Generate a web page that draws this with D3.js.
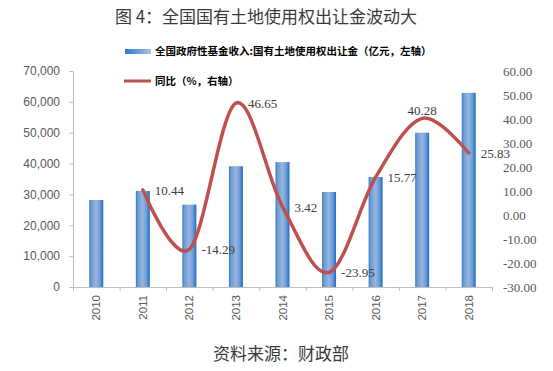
<!DOCTYPE html>
<html>
<head>
<meta charset="utf-8">
<script src="https://cdn.jsdelivr.net/npm/d3@7/dist/d3.min.js"></script>
<style>
  html, body { margin: 0; padding: 0; background: #fff; }
  svg { display: block; }
</style>
</head>
<body>
<svg id="chart" width="553" height="371"></svg>
<script>
const years = ["2010","2011","2012","2013","2014","2015","2016","2017","2018"];
const landRevenue = [28196, 31139, 26689, 39140, 40479, 30784, 35640, 49997, 62911];
const yoyGrowth = [null, 10.44, -14.29, 46.65, 3.42, -23.95, 15.77, 40.28, 25.83];
const leftTicks = [0, 10000, 20000, 30000, 40000, 50000, 60000, 70000];
const rightTicks = [-30, -20, -10, 0, 10, 20, 30, 40, 50, 60];
const titleText = "图 4：全国国有土地使用权出让金波动大";
const sourceText = "资料来源：财政部";
const legendBar = "全国政府性基金收入:国有土地使用权出让金（亿元，左轴）";
const legendLine = "同比（%，右轴）";

const svg = d3.select("#chart");
const plotL = 73, plotR = 492, plotT = 71, plotB = 287;

const defs = svg.append("defs");
const g1 = defs.append("linearGradient").attr("id", "barGrad").attr("x1", "0").attr("x2", "1").attr("y1", "0").attr("y2", "0");
[["0%", "#2f79c8"], ["14%", "#6b9bd5"], ["48%", "#98b5de"], ["76%", "#6c9dd8"], ["100%", "#1a6bc2"]]
  .forEach(([o, c]) => g1.append("stop").attr("offset", o).attr("stop-color", c));
const g2 = defs.append("linearGradient").attr("id", "legGrad").attr("x1", "0").attr("x2", "1");
[["0%", "#2f78c6"], ["100%", "#a7c4e8"]].forEach(([o, c]) => g2.append("stop").attr("offset", o).attr("stop-color", c));

const x = d3.scaleBand().domain(years).range([plotL, plotR]).paddingInner(0.7).paddingOuter(0.35);
const xb = d3.scaleLinear().domain([0, years.length]).range([plotL, plotR]);
const yL = d3.scaleLinear().domain([0, 70000]).range([plotB, plotT]);
const yR = d3.scaleLinear().domain([-30, 60]).range([plotB, plotT]);

// Title
svg.append("text").attr("x", 266).attr("y", 23).attr("text-anchor", "middle")
  .attr("font-family", "'Noto Sans CJK SC', sans-serif").attr("font-size", 17).attr("fill", "#3a3a3a")
  .text(titleText);

// Bars
svg.append("g").selectAll("rect").data(years).join("rect")
  .attr("x", d => x(d)).attr("width", x.bandwidth())
  .attr("y", (d, i) => yL(landRevenue[i]))
  .attr("height", (d, i) => yL(0) - yL(landRevenue[i]))
  .attr("fill", "url(#barGrad)");

// Left axis
const axL = svg.append("g").attr("transform", `translate(${plotL},0)`)
  .call(d3.axisLeft(yL).tickValues(leftTicks).tickFormat(d3.format(",")).tickSize(4).tickSizeOuter(0).tickPadding(9));
axL.selectAll("path, line").attr("stroke", "#bfbfbf");
axL.selectAll("text").attr("font-family", "'Liberation Sans', Arial, sans-serif").attr("font-size", 12).attr("fill", "#595959");

// Bottom axis
const axB = svg.append("g").attr("transform", `translate(0,${plotB})`)
  .call(d3.axisBottom(xb).tickValues(d3.range(years.length + 1)).tickFormat("").tickSize(4).tickSizeOuter(0));
axB.selectAll("path, line").attr("stroke", "#bfbfbf");

svg.append("g").selectAll("text").data(years).join("text")
  .attr("transform", d => `translate(${x(d) + x.bandwidth() / 2 + 4},${plotB + 8}) rotate(-90)`)
  .attr("text-anchor", "end")
  .attr("font-family", "'Liberation Sans', Arial, sans-serif").attr("font-size", 11.5).attr("fill", "#595959")
  .text(d => d);

// Right axis
const axR = svg.append("g").attr("transform", `translate(${plotR},0)`)
  .call(d3.axisRight(yR).tickValues(rightTicks).tickFormat(d => d.toFixed(2)).tickSize(0).tickPadding(11));
axR.select(".domain").remove();
axR.selectAll("text").attr("font-family", "'Liberation Serif', 'Times New Roman', serif").attr("font-size", 13).attr("fill", "#595959");

// Line
const pts = years.map((d, i) => ({ year: d, v: yoyGrowth[i] })).filter(p => p.v !== null);
const cx = d => x(d.year) + x.bandwidth() / 2;
const line = d3.line().x(cx).y(d => yR(d.v)).curve(d3.curveCardinal.tension(0));
svg.append("path").datum(pts).attr("d", line).attr("fill", "none")
  .attr("stroke", "#c0504d").attr("stroke-width", 3.5).attr("stroke-linecap", "round");

// Data labels
svg.append("g").selectAll("text").data(pts).join("text")
  .attr("x", d => d.year === "2017" ? cx(d) : cx(d) + 12)
  .attr("y", d => d.year === "2017" ? yR(d.v) - 6 : yR(d.v) + 2)
  .attr("text-anchor", d => d.year === "2017" ? "middle" : "start")
  .attr("dominant-baseline", "middle")
  .attr("font-family", "'Liberation Serif', 'Times New Roman', serif").attr("font-size", 13).attr("fill", "#404040")
  .text(d => d.v.toFixed(2));

// Legend
svg.append("rect").attr("x", 125).attr("y", 49).attr("width", 26).attr("height", 5).attr("fill", "url(#legGrad)");
svg.append("text").attr("x", 155).attr("y", 55)
  .attr("font-family", "'Noto Sans CJK SC', sans-serif").attr("font-weight", "bold").attr("font-size", 10.5).attr("fill", "#000")
  .text(legendBar);
svg.append("line").attr("x1", 124).attr("x2", 151).attr("y1", 81).attr("y2", 81)
  .attr("stroke", "#c0504d").attr("stroke-width", 3);
svg.append("text").attr("x", 155).attr("y", 85)
  .attr("font-family", "'Noto Sans CJK SC', sans-serif").attr("font-weight", "bold").attr("font-size", 10.5).attr("fill", "#000")
  .text(legendLine);

// Source
svg.append("text").attr("x", 281).attr("y", 360).attr("text-anchor", "middle")
  .attr("font-family", "'Noto Sans CJK SC', sans-serif").attr("font-size", 17).attr("fill", "#3a3a3a")
  .text(sourceText);
</script>
</body>
</html>
